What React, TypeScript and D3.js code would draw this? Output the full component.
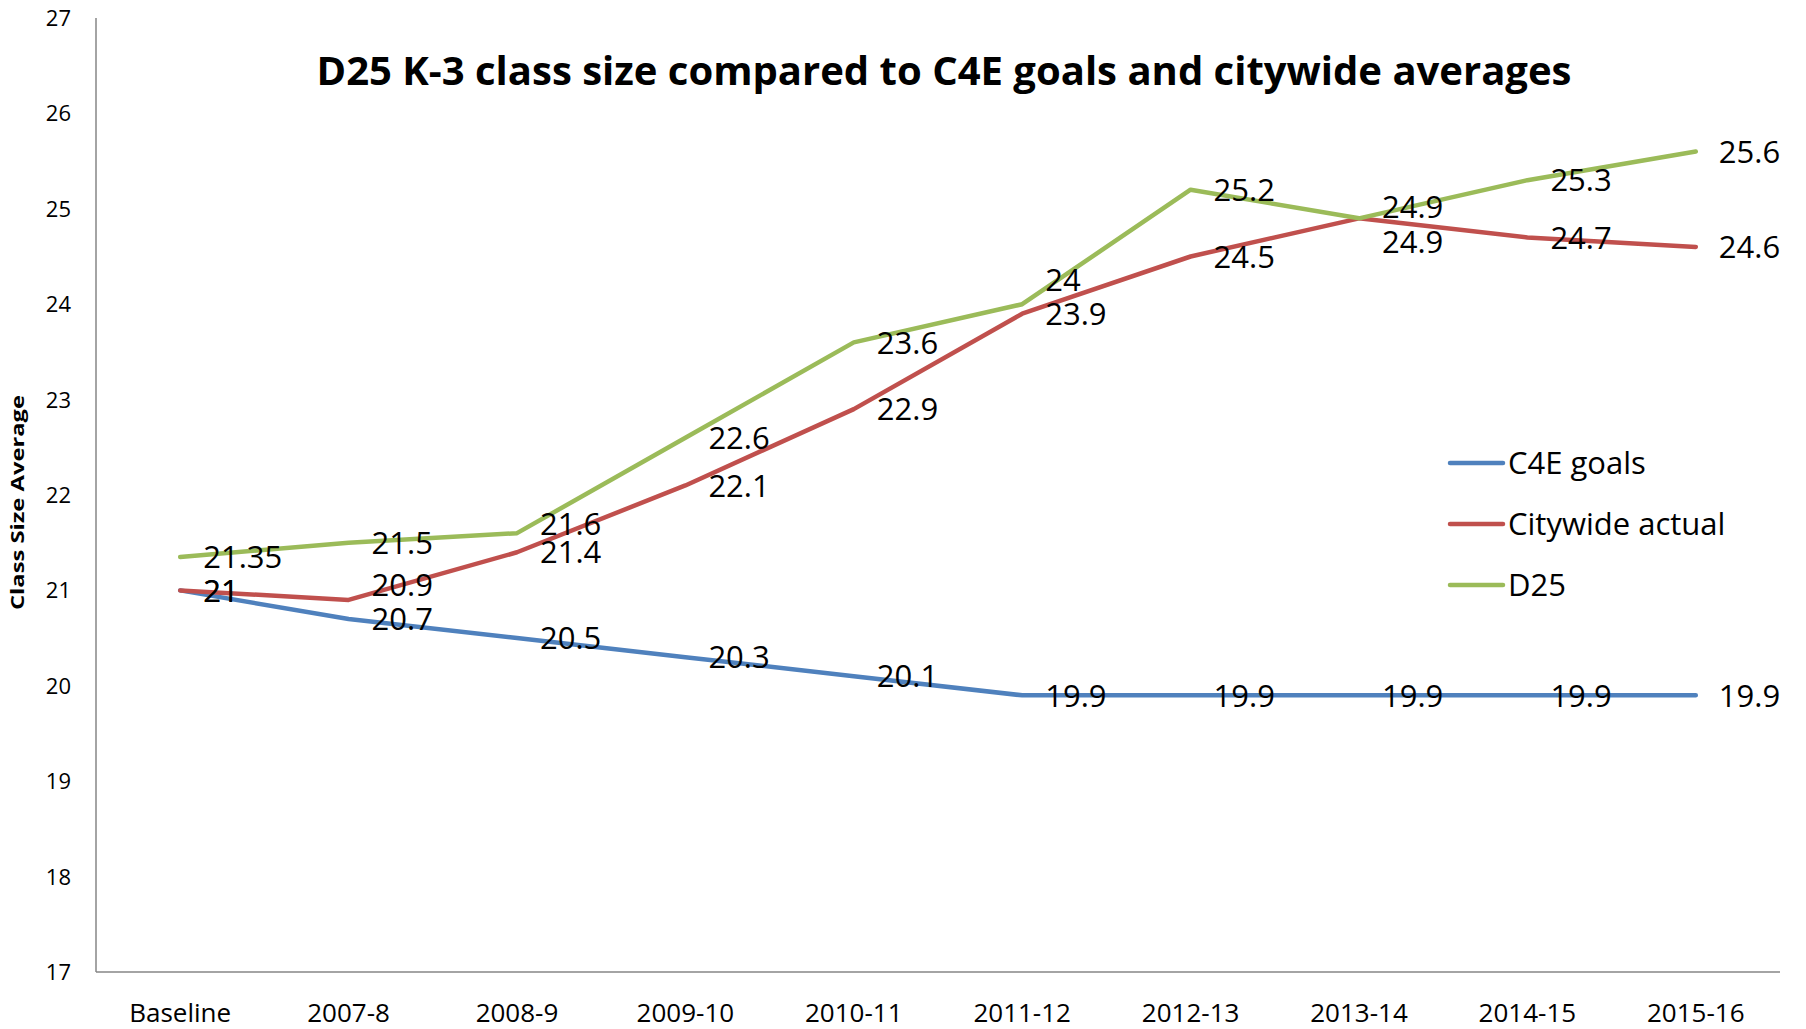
import React from "react";
import * as d3 from "d3";

const categories = ["Baseline", "2007-8", "2008-9", "2009-10", "2010-11", "2011-12", "2012-13", "2013-14", "2014-15", "2015-16"];
const c4eGoals = [21, 20.7, 20.5, 20.3, 20.1, 19.9, 19.9, 19.9, 19.9, 19.9];
const citywideActual = [21, 20.9, 21.4, 22.1, 22.9, 23.9, 24.5, 24.9, 24.7, 24.6];
const d25 = [21.35, 21.5, 21.6, 22.6, 23.6, 24, 25.2, 24.9, 25.3, 25.6];
const seriesNames = ["C4E goals", "Citywide actual", "D25"];
const yTicks = [17, 18, 19, 20, 21, 22, 23, 24, 25, 26, 27];
const title = "D25 K-3 class size compared to C4E goals and citywide averages";
const yAxisTitle = "Class Size Average";

// vertical nudges (px) applied to data labels to avoid collisions, as in the original
const labelNudges: Record<string, number> = {
  "1-2007-8": -15,
  "2-2008-9": -9,
  "2-2011-12": -24,
  "2-2013-14": -12,
  "1-2013-14": 23,
};

const W = 1806;
const H = 1029;
const left = 96;
const right = 1780;
const top = 18;
const bottom = 972;
const colors = ["#4F81BD", "#C0504D", "#9BBB59"];
const font = "'Open Sans', sans-serif";

export default function App() {
  const x = d3.scaleBand<string>().domain(categories).range([left, right]).padding(0);
  const cx = (c: string) => (x(c) as number) + x.bandwidth() / 2;
  const y = d3.scaleLinear().domain([17, 27]).range([bottom, top]);
  const series = [c4eGoals, citywideActual, d25];
  const line = d3
    .line<number>()
    .x((_, i) => cx(categories[i]))
    .y((v) => y(v));

  const legendYs = [463, 524, 585];

  return (
    <svg
      width={W}
      height={H}
      style={{ position: "absolute", left: 0, top: 0, background: "#fff" }}
      fontFamily={font}
    >
      <rect x={0} y={0} width={W} height={H} fill="#fff" />
      <line x1={left} y1={top} x2={left} y2={bottom} stroke="#868686" strokeWidth={1.5} />
      <line x1={left} y1={bottom} x2={right} y2={bottom} stroke="#868686" strokeWidth={1.5} />
      {yTicks.map((t) => (
        <text key={t} x={71} y={y(t)} dy="0.36em" textAnchor="end" fontSize={22} fill="#000">
          {t}
        </text>
      ))}
      {categories.map((c) => (
        <text key={c} x={cx(c)} y={1022} textAnchor="middle" fontSize={26} fill="#000">
          {c}
        </text>
      ))}
      <text
        transform={`translate(24,${(395 + 610) / 2}) rotate(-90)`}
        textAnchor="middle"
        fontSize={18}
        fontWeight="bold"
        textLength={215}
        lengthAdjust="spacingAndGlyphs"
        fill="#000"
      >
        {yAxisTitle}
      </text>
      <text
        x={944}
        y={85}
        textAnchor="middle"
        fontSize={40}
        fontWeight="bold"
        textLength={1255}
        lengthAdjust="spacingAndGlyphs"
        fill="#000"
      >
        {title}
      </text>
      {series.map((s, si) => (
        <path
          key={si}
          d={line(s) as string}
          fill="none"
          stroke={colors[si]}
          strokeWidth={4.5}
          strokeLinecap="round"
          strokeLinejoin="round"
        />
      ))}
      {series.map((s, si) =>
        s.map((v, i) => (
          <text
            key={`${si}-${i}`}
            x={cx(categories[i]) + 23}
            y={y(v) + (labelNudges[`${si}-${categories[i]}`] || 0)}
            dy="0.36em"
            fontSize={31}
            fill="#000"
          >
            {v}
          </text>
        ))
      )}
      {seriesNames.map((n, i) => (
        <g key={n}>
          <line x1={1450} x2={1503} y1={legendYs[i]} y2={legendYs[i]} stroke={colors[i]} strokeWidth={4.5} strokeLinecap="round" />
          <text x={1508} y={legendYs[i]} dy="0.36em" fontSize={31} fill="#000">
            {n}
          </text>
        </g>
      ))}
    </svg>
  );
}
